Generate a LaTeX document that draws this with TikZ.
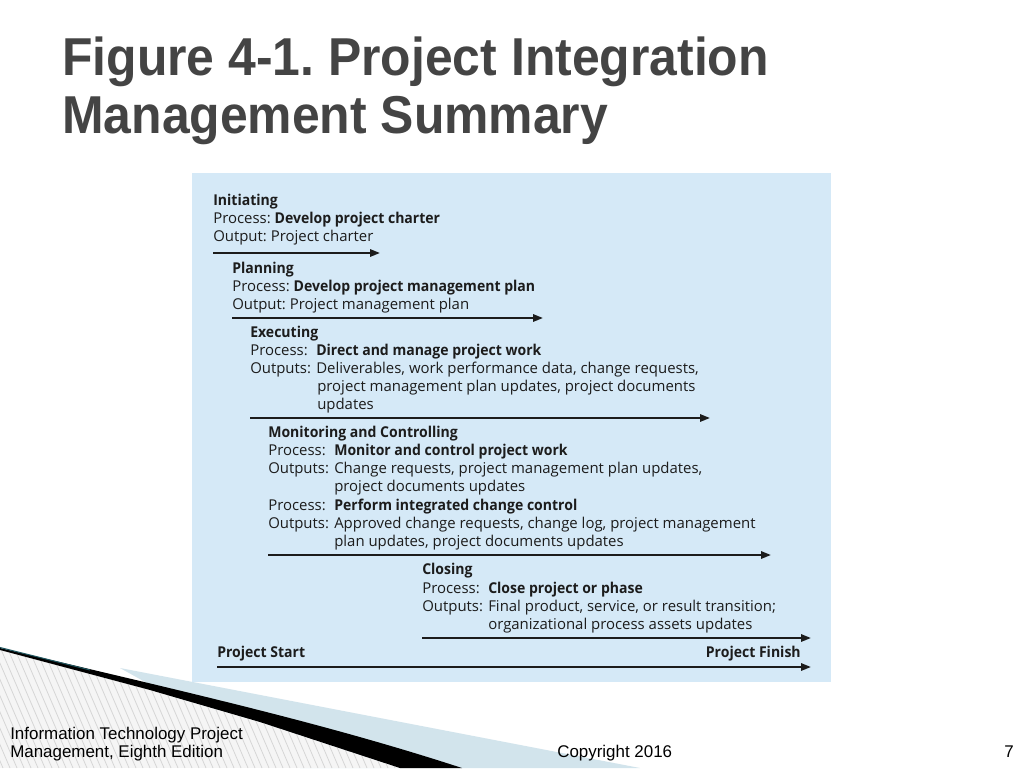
\documentclass[tikz,border=0pt]{standalone}
\usepackage{fontspec}
\setmainfont{Open Sans}[BoldFeatures={FakeStretch=0.94}]
\newfontfamily\titlefont[FakeStretch=0.935]{Liberation Sans}
\newfontfamily\footfont{Liberation Sans}
\usetikzlibrary{arrows.meta}
\frenchspacing
\definecolor{panel}{RGB}{213,233,247}
\definecolor{ink}{RGB}{28,28,28}
\definecolor{titlegray}{RGB}{68,68,68}
\definecolor{bandblue}{RGB}{210,228,236}
\definecolor{teal}{RGB}{30,85,95}
\tikzset{
  txt/.style={anchor=base west,inner sep=0pt,font=\fontsize{11.2}{13}\selectfont,text=ink},
  tl/.style={line width=1.5pt,draw=ink,-{Triangle[length=7.5pt,width=5.5pt]}},
  foot/.style={inner sep=0pt,font=\footfont\fontsize{12.7}{15}\selectfont,text=black},
  titletxt/.style={anchor=base west,inner sep=0pt,font=\titlefont\bfseries\fontsize{40}{44}\selectfont,text=titlegray},
  hatchline/.style={draw=gray!32,line width=0.6pt}
}
\begin{document}
\begin{tikzpicture}[x=0.75pt,y=-0.75pt]
\useasboundingbox (0,0) rectangle (1024,768);
\fill[white] (0,0) rectangle (1024,768);
% title
\node[titletxt] (t1) at (62,75) {Figure 4-1.\ Project Integration};
\node[titletxt] (t2) at (62,133) {Management Summary};
% panel
\fill[panel] (192,173) rectangle (831,682);
% Initiating
\node[txt] (i1) at (213,205) {\textbf{Initiating}};
\node[txt] (i2) at (213,223) {Process: \textbf{Develop project charter}};
\node[txt] (i3) at (213,241) {Output: Project charter};
\coordinate (a1s) at (213,253); \coordinate (a1e) at (380,253);
\draw[tl] (a1s) -- (a1e);
% Planning
\node[txt] (p1) at (232,273) {\textbf{Planning}};
\node[txt] (p2) at (232,291) {Process: \textbf{Develop project management plan}};
\node[txt] (p3) at (232,309) {Output: Project management plan};
\coordinate (a2s) at (232,318); \coordinate (a2e) at (543,318);
\draw[tl] (a2s) -- (a2e);
% Executing
\node[txt] (e1) at (250,337) {\textbf{Executing}};
\node[txt] (e2) at (250,355) {Process:};
\node[txt] (e2b) at (316,355) {\textbf{Direct and manage project work}};
\node[txt] (e3) at (250,373) {Outputs:};
\node[txt] (e3b) at (316,373) {Deliverables, work performance data, change requests,};
\node[txt] (e4) at (317,391) {project management plan updates, project documents};
\node[txt] (e5) at (317,409) {updates};
\coordinate (a3s) at (250,418); \coordinate (a3e) at (710,418);
\draw[tl] (a3s) -- (a3e);
% Monitoring
\node[txt] (m1) at (268,437) {\textbf{Monitoring and Controlling}};
\node[txt] (m2) at (268,455) {Process:};
\node[txt] (m2b) at (334,455) {\textbf{Monitor and control project work}};
\node[txt] (m3) at (268,473) {Outputs:};
\node[txt] (m3b) at (334,473) {Change requests, project management plan updates,};
\node[txt] (m4) at (334,491) {project documents updates};
\node[txt] (m5) at (268,510) {Process:};
\node[txt] (m5b) at (334,510) {\textbf{Perform integrated change control}};
\node[txt] (m6) at (268,528) {Outputs:};
\node[txt] (m6b) at (334,528) {Approved change requests, change log, project management};
\node[txt] (m7) at (334,546) {plan updates, project documents updates};
\coordinate (a4s) at (268,555); \coordinate (a4e) at (771,555);
\draw[tl] (a4s) -- (a4e);
% Closing
\node[txt] (c1) at (422,574) {\textbf{Closing}};
\node[txt] (c2) at (422,593) {Process:};
\node[txt] (c2b) at (488,593) {\textbf{Close project or phase}};
\node[txt] (c3) at (422,611) {Outputs:};
\node[txt] (c3b) at (488,611) {Final product, service, or result transition;};
\node[txt] (c4) at (488,629) {organizational process assets updates};
\coordinate (a5s) at (422,638); \coordinate (a5e) at (811,638);
\draw[tl] (a5s) -- (a5e);
% Start / Finish
\node[txt] (ps) at (217,657) {\textbf{Project Start}};
\node[txt,anchor=base east] (pf) at (801,657) {\textbf{Project Finish}};
\coordinate (a6s) at (217,667); \coordinate (a6e) at (811,667);
\draw[tl] (a6s) -- (a6e);
% bottom-left decoration
\fill[bandblue] (120,668) -- (640,768) -- (300,768) -- cycle;
\begin{scope}
  \clip (0,650) -- (150,690) -- (260,722) -- (400,768) -- (0,768) -- cycle;
  \fill[gray!8] (0,640) rectangle (460,768);
  \foreach \k in {-80,-73,...,460} \draw[hatchline] (\k,640) -- (\k+55,768);
\end{scope}
\fill[black] (0,648) .. controls (200,695) and (330,725) .. (462,768) -- (400,768) -- (260,722) -- (150,690) -- (0,650) -- cycle;
\draw[teal,line width=0.8pt] (0,647.5) -- (90,670);
% footer
\node[foot,anchor=base west] (f1) at (10,739) {Information Technology Project};
\node[foot,anchor=base west] (f2) at (10,757) {Management, Eighth Edition};
\node[foot,anchor=base west] (f3) at (557,757) {Copyright 2016};
\node[foot,anchor=base east] (f4) at (1014,757) {7};
\end{tikzpicture}
\end{document}
